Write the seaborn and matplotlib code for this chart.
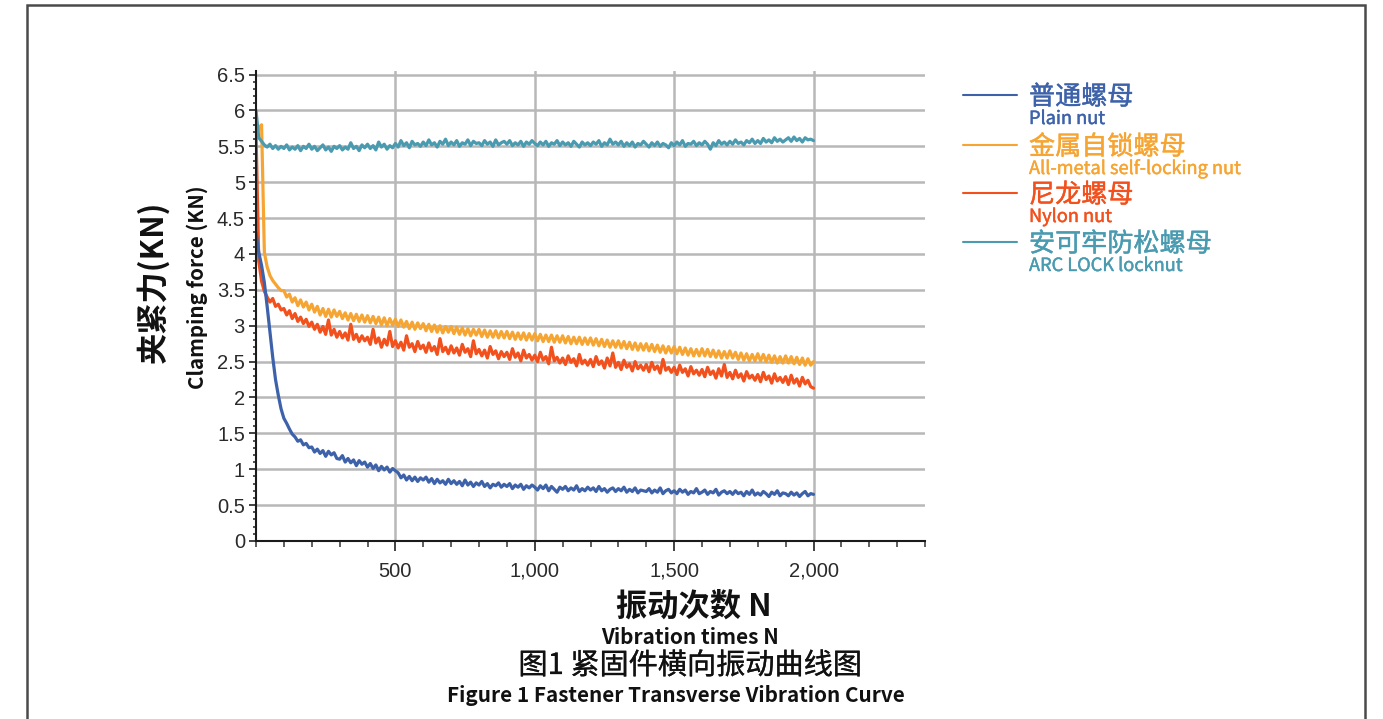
import numpy as np
import pandas as pd
import matplotlib
matplotlib.use("Agg")
import matplotlib.pyplot as plt
import seaborn as sns
from matplotlib.ticker import MultipleLocator
from matplotlib.lines import Line2D
from matplotlib.patches import Rectangle
import matplotlib.patheffects as pe

# sample every 10 vibration cycles, 0..2000
cycles = np.arange(0, 2001, 10)

plain_nut = [
    4.30, 4.02, 3.84, 3.60, 3.27, 2.92, 2.56, 2.25, 2.03, 1.84,
    1.71, 1.64, 1.56, 1.49, 1.45, 1.39, 1.41, 1.34, 1.36, 1.30,
    1.31, 1.24, 1.28, 1.22, 1.26, 1.18, 1.25, 1.20, 1.23, 1.15,
    1.14, 1.19, 1.10, 1.15, 1.09, 1.13, 1.05, 1.12, 1.07, 1.10,
    1.03, 1.08, 1.01, 1.06, 0.98, 1.04, 0.99, 1.03, 0.96, 1.01,
    0.98, 0.95, 0.88, 0.92, 0.85, 0.90, 0.84, 0.89, 0.83, 0.88,
    0.85, 0.89, 0.82, 0.87, 0.80, 0.86, 0.81, 0.84, 0.79, 0.86,
    0.80, 0.84, 0.79, 0.83, 0.77, 0.85, 0.78, 0.82, 0.76, 0.81,
    0.78, 0.83, 0.76, 0.80, 0.74, 0.79, 0.77, 0.81, 0.75, 0.79,
    0.76, 0.80, 0.73, 0.78, 0.75, 0.79, 0.72, 0.77, 0.74, 0.78,
    0.75, 0.71, 0.77, 0.73, 0.78, 0.70, 0.76, 0.72, 0.68, 0.75,
    0.72, 0.76, 0.70, 0.74, 0.71, 0.77, 0.69, 0.73, 0.70, 0.75,
    0.71, 0.74, 0.69, 0.76, 0.70, 0.73, 0.68, 0.72, 0.74, 0.69,
    0.73, 0.70, 0.75, 0.68, 0.72, 0.69, 0.74, 0.67, 0.71, 0.70,
    0.69, 0.73, 0.67, 0.71, 0.68, 0.74, 0.66, 0.70, 0.72, 0.67,
    0.70, 0.66, 0.72, 0.68, 0.71, 0.65, 0.69, 0.67, 0.73, 0.66,
    0.68, 0.71, 0.65, 0.69, 0.67, 0.72, 0.64, 0.68, 0.70, 0.66,
    0.69, 0.65, 0.70, 0.66, 0.68, 0.63, 0.69, 0.65, 0.71, 0.64,
    0.67, 0.64, 0.69, 0.66, 0.62, 0.68, 0.65, 0.70, 0.63, 0.67,
    0.66, 0.63, 0.68, 0.64, 0.67, 0.62, 0.66, 0.69, 0.63, 0.66,
    0.65,
]

all_metal_nut = [
    5.62, 5.76, 5.80, 4.02, 3.82, 3.70, 3.63, 3.58, 3.53, 3.49,
    3.49, 3.40, 3.44, 3.33, 3.39, 3.28, 3.36, 3.26, 3.33, 3.22,
    3.30, 3.19, 3.27, 3.15, 3.24, 3.13, 3.23, 3.12, 3.22, 3.13,
    3.20, 3.10, 3.18, 3.08, 3.17, 3.07, 3.16, 3.06, 3.15, 3.05,
    3.14, 3.04, 3.13, 3.03, 3.12, 3.01, 3.11, 3.00, 3.10, 3.01,
    3.09, 2.99, 3.08, 2.98, 3.06, 2.96, 3.05, 2.95, 3.04, 2.96,
    3.03, 2.93, 3.02, 2.92, 3.01, 2.91, 3.00, 2.90, 2.99, 2.91,
    2.99, 2.89, 2.98, 2.88, 2.97, 2.87, 2.96, 2.86, 2.95, 2.87,
    2.95, 2.85, 2.94, 2.84, 2.93, 2.84, 2.93, 2.83, 2.92, 2.83,
    2.92, 2.82, 2.91, 2.81, 2.90, 2.81, 2.90, 2.80, 2.89, 2.80,
    2.89, 2.79, 2.88, 2.78, 2.87, 2.78, 2.87, 2.77, 2.86, 2.77,
    2.86, 2.76, 2.85, 2.75, 2.84, 2.75, 2.84, 2.74, 2.83, 2.74,
    2.83, 2.73, 2.82, 2.72, 2.81, 2.71, 2.80, 2.70, 2.79, 2.70,
    2.79, 2.69, 2.78, 2.68, 2.77, 2.67, 2.76, 2.66, 2.75, 2.66,
    2.75, 2.65, 2.74, 2.64, 2.73, 2.63, 2.72, 2.62, 2.71, 2.62,
    2.71, 2.61, 2.70, 2.60, 2.69, 2.59, 2.68, 2.58, 2.67, 2.58,
    2.68, 2.58, 2.67, 2.57, 2.66, 2.56, 2.65, 2.55, 2.64, 2.55,
    2.65, 2.55, 2.63, 2.53, 2.62, 2.52, 2.61, 2.51, 2.60, 2.51,
    2.61, 2.51, 2.60, 2.50, 2.59, 2.49, 2.58, 2.48, 2.57, 2.48,
    2.58, 2.48, 2.57, 2.47, 2.56, 2.46, 2.55, 2.45, 2.54, 2.45,
    2.50,
]

nylon_nut = [
    5.70, 3.90, 3.62, 3.48, 3.40, 3.33, 3.38, 3.27, 3.30, 3.22,
    3.24, 3.15, 3.21, 3.10, 3.17, 3.06, 3.12, 3.03, 3.09, 2.99,
    3.05, 2.95, 3.02, 2.91, 2.99, 2.88, 3.08, 2.87, 2.95, 2.84,
    2.92, 2.83, 2.90, 2.80, 3.02, 2.81, 2.88, 2.78, 2.86, 2.79,
    2.84, 2.74, 2.95, 2.76, 2.83, 2.70, 2.81, 2.73, 2.92, 2.71,
    2.79, 2.69, 2.77, 2.66, 2.86, 2.70, 2.75, 2.64, 2.78, 2.68,
    2.73, 2.63, 2.76, 2.65, 2.71, 2.60, 2.82, 2.64, 2.70, 2.61,
    2.72, 2.62, 2.69, 2.59, 2.74, 2.63, 2.68, 2.57, 2.79, 2.61,
    2.67, 2.58, 2.66, 2.55, 2.71, 2.60, 2.65, 2.54, 2.64, 2.57,
    2.63, 2.53, 2.68, 2.56, 2.62, 2.51, 2.66, 2.55, 2.60, 2.52,
    2.59, 2.50, 2.63, 2.52, 2.57, 2.47, 2.70, 2.51, 2.56, 2.48,
    2.55, 2.46, 2.58, 2.49, 2.54, 2.44, 2.60, 2.47, 2.52, 2.45,
    2.53, 2.43, 2.57, 2.46, 2.51, 2.41, 2.55, 2.44, 2.62, 2.42,
    2.49, 2.39, 2.52, 2.42, 2.47, 2.37, 2.50, 2.40, 2.45, 2.38,
    2.46, 2.36, 2.49, 2.39, 2.44, 2.34, 2.53, 2.38, 2.42, 2.35,
    2.42, 2.32, 2.45, 2.35, 2.40, 2.30, 2.43, 2.33, 2.38, 2.31,
    2.39, 2.29, 2.42, 2.32, 2.37, 2.27, 2.40, 2.30, 2.46, 2.28,
    2.35, 2.26, 2.38, 2.28, 2.33, 2.23, 2.36, 2.27, 2.31, 2.24,
    2.32, 2.22, 2.35, 2.25, 2.30, 2.20, 2.33, 2.23, 2.28, 2.21,
    2.29, 2.18, 2.31, 2.20, 2.26, 2.16, 2.28, 2.19, 2.24, 2.15,
    2.13,
]

arc_lock_nut = [
    6.00, 5.62, 5.57, 5.52, 5.49, 5.53, 5.47, 5.51, 5.46, 5.50,
    5.47, 5.52, 5.45, 5.49, 5.46, 5.51, 5.44, 5.50, 5.47, 5.53,
    5.46, 5.50, 5.44, 5.48, 5.52, 5.45, 5.49, 5.43, 5.50, 5.47,
    5.51, 5.45, 5.49, 5.46, 5.55, 5.47, 5.50, 5.44, 5.52, 5.48,
    5.53, 5.47, 5.51, 5.45, 5.56, 5.49, 5.53, 5.46, 5.51, 5.48,
    5.54, 5.49, 5.58, 5.51, 5.55, 5.48, 5.57, 5.52, 5.54, 5.50,
    5.56, 5.51, 5.59, 5.52, 5.55, 5.49, 5.57, 5.53, 5.60, 5.51,
    5.56, 5.52, 5.58, 5.50, 5.55, 5.53, 5.59, 5.51, 5.57, 5.54,
    5.55, 5.51, 5.58, 5.53, 5.56, 5.50, 5.59, 5.52, 5.55, 5.57,
    5.53, 5.58, 5.51, 5.55, 5.52, 5.57, 5.50, 5.56, 5.53, 5.58,
    5.54, 5.51, 5.56, 5.52, 5.57, 5.50, 5.55, 5.53, 5.58, 5.51,
    5.56, 5.52, 5.55, 5.50, 5.57, 5.53, 5.49, 5.56, 5.52, 5.55,
    5.51, 5.56, 5.53, 5.58, 5.50, 5.55, 5.52, 5.60, 5.53, 5.56,
    5.52, 5.57, 5.50, 5.55, 5.51, 5.56, 5.49, 5.54, 5.52, 5.57,
    5.53, 5.49, 5.55, 5.51, 5.56, 5.50, 5.54, 5.52, 5.48, 5.55,
    5.51, 5.56, 5.52, 5.58, 5.50, 5.54, 5.53, 5.57, 5.51, 5.55,
    5.52, 5.57, 5.53, 5.46, 5.55, 5.51, 5.58, 5.53, 5.56, 5.52,
    5.57, 5.53, 5.59, 5.54, 5.56, 5.52, 5.58, 5.55, 5.60, 5.54,
    5.58, 5.54, 5.61, 5.56, 5.59, 5.55, 5.62, 5.57, 5.60, 5.56,
    5.59, 5.62, 5.57, 5.63, 5.58, 5.61, 5.56, 5.62, 5.59, 5.60,
    5.58,
]

names_cn = ["普通螺母", "金属自锁螺母", "尼龙螺母", "安可牢防松螺母"]
names_en = ["Plain nut", "All-metal self-locking nut", "Nylon nut", "ARC LOCK locknut"]
colors = ["#3d62aa", "#f6a532", "#f2501c", "#4a9bb0"]
x_ticks = [500, 1000, 1500, 2000]
x_ticklabels = ["500", "1,000", "1,500", "2,000"]

df = pd.DataFrame({
    "cycles": np.tile(cycles, 4),
    "force": plain_nut + all_metal_nut + nylon_nut + arc_lock_nut,
    "nut": np.repeat(names_en, len(cycles)),
})

sns.set_theme(style="white")
plt.rcParams["font.family"] = ["Noto Sans CJK SC", "DejaVu Sans"]

W, H = 1383, 719
fig = plt.figure(figsize=(W / 100, H / 100), dpi=100)
ax = fig.add_axes([256 / W, 1 - 541 / H, 669 / W, (541 - 71) / H])

draw_order = [names_en[1], names_en[2], names_en[0], names_en[3]]
sns.lineplot(data=df, x="cycles", y="force", hue="nut", hue_order=draw_order,
             palette=dict(zip(names_en, colors)), estimator=None, lw=2.3,
             legend=False, ax=ax)

ax.set_xlim(0, 2400)
ax.set_ylim(0, 6.55)
ax.set_xticks(x_ticks)
ax.set_xticklabels(x_ticklabels)
ax.xaxis.set_minor_locator(MultipleLocator(100))
ax.set_yticks(np.arange(0, 6.51, 0.5))
ax.set_yticklabels(["%g" % v for v in np.arange(0, 6.51, 0.5)])
ax.yaxis.set_minor_locator(MultipleLocator(0.1))
ax.set_xlabel("")
ax.set_ylabel("")

ax.grid(which="major", color="#b8b8b8", lw=1.8)
ax.set_axisbelow(True)
for s in ["top", "right"]:
    ax.spines[s].set_visible(False)
for s in ["left", "bottom"]:
    ax.spines[s].set_color("#1a1a1a")
    ax.spines[s].set_linewidth(1.5)

for lab in ax.get_xticklabels() + ax.get_yticklabels():
    lab.set_fontfamily("Liberation Sans")
    lab.set_fontsize(14.5)
    lab.set_color("#2a2a2a")
ax.tick_params(axis="y", which="major", direction="out", length=5, width=1.3, pad=3, color="#333333", left=True)
ax.tick_params(axis="y", which="minor", direction="out", length=2.5, width=1.2, color="#333333", left=True)
ax.tick_params(axis="x", which="major", direction="out", length=7, width=1.3, pad=8, color="#333333", bottom=True)
ax.tick_params(axis="x", which="minor", direction="out", length=4, width=1.1, color="#333333", bottom=True)

def ftext(x, y, s, **kw):
    return fig.text(x / W, 1 - y / H, s, **kw)

# axis titles
ftext(153, 282, "夹紧力(KN)", rotation=90, fontsize=22.5, fontweight="bold",
      ha="center", va="center", color="#111111")
ftext(197, 287, "Clamping force (KN)", rotation=90, fontsize=14.8, fontweight="bold",
      ha="center", va="center", color="#111111")
ftext(694, 607, "振动次数 N", fontsize=22.5, fontweight="bold", ha="center", va="center", color="#111111")
ftext(690, 637, "Vibration times N", fontsize=15, fontweight="bold", ha="center", va="center", color="#111111")
t = ftext(690, 666, "图1 紧固件横向振动曲线图", fontsize=21, ha="center", va="center", color="#111111")
t.set_path_effects([pe.withStroke(linewidth=0.2, foreground="#111111")])
ftext(676, 696, "Figure 1 Fastener Transverse Vibration Curve", fontsize=14.9, fontweight="bold",
      ha="center", va="center", color="#111111")

# legend
leg_y = [95, 145, 193, 242]
for cn, en, c, y in zip(names_cn, names_en, colors, leg_y):
    fig.add_artist(Line2D([963 / W, 1017 / W], [1 - y / H, 1 - y / H], color=c, lw=1.5,
                          transform=fig.transFigure))
    t1 = ftext(1029, y + 2, cn, fontsize=18.8, color=c, ha="left", va="center")
    t2 = ftext(1029, y + 24, en, fontsize=13.1, color=c, ha="left", va="center")
    for t in (t1, t2):
        t.set_path_effects([pe.withStroke(linewidth=0.3, foreground=c)])

# page frame
fig.add_artist(Rectangle((27 / W, -0.05), (1365 - 27) / W, 1.05 - 5 / H, fill=False,
                         edgecolor="#4a4a4a", lw=1.8, transform=fig.transFigure))

fig.savefig("out.png", dpi=100)
